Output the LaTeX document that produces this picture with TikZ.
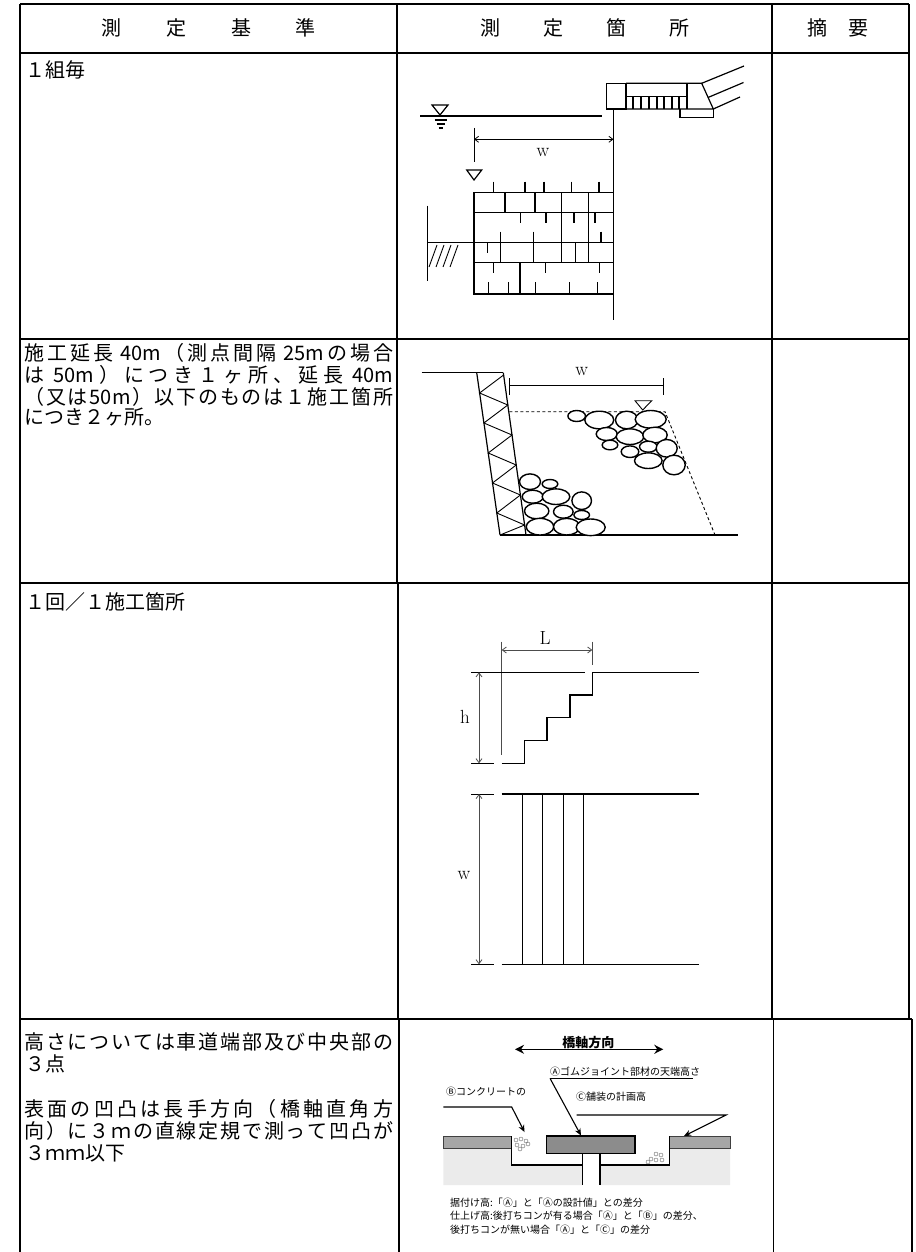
\documentclass[tikz,border=0pt]{standalone}
\usepackage{fontspec}
\newfontfamily\jp{Noto Sans CJK JP}
\usetikzlibrary{arrows.meta,calc}
\def\spreadfirst#1{#1\spreadtok}
\def\spreadtok#1{\ifx\relax#1\else\hfil#1\expandafter\spreadtok\fi}
\newcommand\spreadline[2]{\makebox[#1][s]{\spreadfirst#2\relax}}
\tikzset{
  tb/.style={line width=1.1pt},
  tbo/.style={line width=2.4pt},
  dg/.style={line width=1.2pt},
  thinl/.style={line width=0.9pt},
  dimg/.style={line width=0.8pt, black!70},
  dimarrow/.style={dimg, {Straight Barb[length=4pt,width=6pt]}-{Straight Barb[length=4pt,width=6pt]}},
  txt/.style={inner sep=0pt, anchor=west, font=\jp\fontsize{20}{24}\selectfont},
  head/.style={inner sep=0pt, font=\jp\fontsize{20}{24}\selectfont},
  lab/.style={inner sep=0pt, font=\fontsize{19}{21}\selectfont},
  stone/.style={line width=1.4pt, fill=white},
  small/.style={inner sep=0pt, anchor=west, font=\jp\fontsize{10}{12}\selectfont},
  pave/.style={fill=black!35},
  deck/.style={fill=black!8},
}
\begin{document}
\begin{tikzpicture}[x=1pt,y=-1pt]
\useasboundingbox (0,0) rectangle (915,1252);
% ---------------- table ----------------
\draw[tbo] (20,4) -- (909,4);
\draw[tbo] (20,4) -- (20,1252);
\draw[tbo] (909,4) -- (909,1019);
\draw[tbo] (912,1019) -- (912,1252);
\draw[tb] (20,53) -- (909,53);
\draw[tb] (20,339) -- (909,339);
\draw[tb] (398,583) -- (909,583);
\draw[line width=2pt] (20,583) -- (398,583);
\draw[line width=1.5pt] (20,1019) -- (912,1019);
\draw[tb] (397,4) -- (397,583);
\draw[tb] (398,583) -- (398,1019);
\draw[tb] (399,1019) -- (399,1252);
\draw[tb] (772,4) -- (772,1019);
\draw[tb] (773.5,1019) -- (773.5,1252);
% headers
\node[head] (h1) at (111.7,28) {測};
\node[head] (h2) at (176.3,28) {定};
\node[head] (h3) at (241,28) {基};
\node[head] (h4) at (305.7,28) {準};
\node[head] (h5) at (490,28) {測};
\node[head] (h6) at (553,28) {定};
\node[head] (h7) at (616,28) {箇};
\node[head] (h8) at (679,28) {所};
\node[head] (h9) at (817.5,28) {摘};
\node[head] (h10) at (858,28) {要};
% column 1 texts
\node[txt] (r1) at (25,70) {１組毎};
\node[txt] (r2a) at (24,353) {\spreadline{369pt}{施工延長{ 40m}（測点間隔{ 25m}の場合}};
\node[txt] (r2b) at (24,375) {\spreadline{369pt}{は{ 50m}）につき１ヶ所、延長{ 40m}}};
\node[txt] (r2c) at (24,396.5) {\spreadline{369pt}{（又は{50m}）以下のものは１施工箇所}};
\node[txt] (r2d) at (24,417) {につき２ヶ所。};
\node[txt] (r3) at (25,602) {１回／１施工箇所};
\node[txt] (r4a) at (24,1041.5) {\spreadline{369pt}{高さについては車道端部及び中央部の}};
\node[txt] (r4b) at (25,1063.5) {３点};
\node[txt] (r4c) at (24,1108.5) {\spreadline{369pt}{表面の凹凸は長手方向（橋軸直角方}};
\node[txt] (r4d) at (24,1131) {\spreadline{369pt}{向）に３ｍの直線定規で測って凹凸が}};
\node[txt] (r4e) at (25,1153.5) {３ｍｍ以下};
% ---------------- diagram 1 ----------------
\draw[dg] (420,116) -- (602,116);
\draw[line width=2pt] (420,116) -- (467,116);
\draw[dg] (432,105) -- (448,105) -- (440,115) -- cycle;
\draw[dg] (434.5,120) -- (446.5,120) (436.5,124) -- (444.5,124) (438.5,128) -- (442.5,128);
\draw[dg] (613.5,110) -- (613.5,320);
\draw[dg] (606.7,83.3) rectangle (626,109);
\draw[dg] (626,83.3) -- (701.7,83.3) -- (713.3,109) -- (626,109);
\draw[dg] (626,96.7) -- (687,96.7) (687,83.3) -- (687,109);
\foreach \tx in {633,641,649,657,664,672,679}
  \draw[dg] (\tx,96.7) -- (\tx,109);
\draw[dg] (680,109) -- (680,117.3) -- (713.3,117.3) -- (713.3,109);
\draw[dg] (701.7,83.3) -- (744,66) (708,97.5) -- (743.5,82.5) (713.3,109) -- (740,97);
% dimension w
\draw[thinl] (474,128) -- (474,162);
\draw[dimarrow, black] (474,139.3) -- (613.5,139.3);
\node[lab] (w1) at (543,152) {w};
\draw[dg] (466.7,170) -- (481.7,170) -- (474,180) -- cycle;
% block wall
\draw[dg] (474,192.3) rectangle (613.5,294);
\draw[dg] (474,212.3) -- (613.5,212.3) (474,242.7) -- (613.5,242.7) (474,262.3) -- (613.5,262.3);
\foreach \tx in {493.3,525,544,571.7,599} \draw[dg] (\tx,181.7) -- (\tx,192.3);
\foreach \tx in {505,535,561.7,588.3} \draw[dg] (\tx,192.3) -- (\tx,212.3);
\foreach \tx in {561.7,588.3} \draw[dg] (\tx,212.3) -- (\tx,242.7);
\foreach \tx in {520.7,546,574,595} \draw[dg] (\tx,212.3) -- (\tx,223.3);
\foreach \tx in {500.7,533.3,601} \draw[dg] (\tx,231.7) -- (\tx,242.7);
\foreach \tx in {500.7,533.3,561.7,575.7,588.3} \draw[dg] (\tx,242.7) -- (\tx,262.3);
\draw[dg] (487.3,242.7) -- (487.3,253.3);
\draw[dg] (520,262.3) -- (520,294);
\foreach \tx in {493.3,545.7,599.3} \draw[dg] (\tx,262.3) -- (\tx,273.3);
\foreach \tx in {488.3,508.3,535.7,569.3,597.3} \draw[dg] (\tx,282.3) -- (\tx,294);
% ground left
\draw[dg] (427.3,205.7) -- (427.3,280.7);
\draw[dg] (427.3,242.7) -- (474,242.7);
\foreach \tx in {0,7,14,21} \draw[thinl] (437+\tx,245) -- (429+\tx,267);
% ---------------- diagram 2 ----------------
\draw[dg] (421.7,372.7) -- (503.3,372.7);
\draw[dg] (476.7,372.7) -- (500,535);
\draw[dg] (503.3,372.7) -- (526,535);
\draw[thinl] (503.6,375) -- (479.6,393) -- (507.8,405) -- (483.9,423) -- (512,435) -- (488.2,453) -- (516.2,465) -- (492.5,483) -- (520.4,495) -- (496.8,513) -- (524.6,525) -- (500,535);
\draw[thinl] (509.3,378) -- (509.3,395) (663.3,378) -- (663.3,395);
\draw[thinl] (509.3,385) -- (663.3,385);
\node[lab] (w2) at (581.7,371) {w};
\draw[thinl, dash pattern=on 3pt off 2.5pt] (509.3,411.7) -- (665,411.7) -- (715,535);
\draw[dg] (500,535) -- (738.3,535);
% stones
\foreach \sx/\sy/\rx/\ry in {
  576.7/416/8.8/5.5, 599.3/420/14.5/8.8, 626.7/420/11.2/8.8, 650.7/419.3/15.5/8.8,
  606.7/434/10.5/6.5, 630/436.7/13.8/7.8, 655/435/12.2/7.8, 610/445/7.8/4.8,
  630/451.7/8.8/5.8, 648.3/446.7/8.8/5.5, 666.7/448.3/10.5/8.8, 648.3/460.7/13.8/7.8,
  674/465/11.2/9.8,
  530/481.7/10.5/7.8, 550/484/7.8/4.5, 532.7/496.7/10.5/6.5, 556/496.7/13.8/7.8,
  581.7/500.7/9.8/8.8, 536.7/511/12.2/7.8, 563.3/511.7/9.8/6.5, 581.7/515/7.8/4.5,
  540/526.7/13.8/8.3, 566.7/526.7/13.2/8.3, 590.7/527.3/14.5/8.3}
  \draw[stone] (\sx,\sy) ellipse [x radius=\rx, y radius=\ry];
\draw[thinl, fill=white] (635,400.7) -- (651.7,400.7) -- (642.7,410) -- cycle;
% ---------------- diagram 3 ----------------
\draw[dimg] (501.7,641.7) -- (501.7,755);
\draw[dimg] (592.3,641.7) -- (592.3,665);
\draw[dimarrow] (501.7,650) -- (592.3,650);
\node[lab] (lL) at (545,638) {L};
\draw[thinl] (471,672.3) -- (585,672.3);
\draw[dg] (501.7,763.3) -- (524.3,763.3) -- (524.3,740.7) -- (547,740.7) -- (547,717.7) -- (570,717.7) -- (570,695) -- (592.3,695) -- (592.3,672.3) -- (699,672.3);
\draw[thinl] (471,763.3) -- (494.3,763.3);
\draw[dimarrow] (479,672.3) -- (479,763.3);
\node[lab] (lh) at (465,716.7) {h};
\draw[thinl] (471,794) -- (494.3,794) (471,964.3) -- (494.3,964.3);
\draw[dg] (501.7,794) -- (699,794) (501.7,964.3) -- (699,964.3);
\foreach \tx in {522.3,542.7,563.3,583.7} \draw[dg] (\tx,794) -- (\tx,964.3);
\draw[dimarrow] (479,794) -- (479,964.3);
\node[lab] (lw) at (464,875) {w};
% ---------------- diagram 4 ----------------
\node[inner sep=0pt, font=\jp\bfseries\fontsize{13}{15}\selectfont] (d4t) at (588.3,1043) {橋軸方向};
\draw[line width=1.6pt, {Stealth[length=9pt,width=9pt]}-{Stealth[length=9pt,width=9pt]}] (515,1049.3) -- (663.3,1049.3);
\node[small] (ta) at (550,1072) {Ⓐゴムジョイント部材の天端高さ};
\draw[thinl] (550,1078.3) -- (693.3,1078.3);
\node[small] (tb) at (446,1091.5) {Ⓑコンクリートの};
\node[small] (tc) at (576,1097) {Ⓒ舗装の計画高};
% deck
\fill[deck] (443.3,1148.3) -- (511.7,1148.3) -- (511.7,1165) -- (582.7,1165) -- (582.7,1185) -- (443.3,1185) -- cycle;
\fill[deck] (600,1165) -- (669.3,1165) -- (669.3,1148.3) -- (730,1148.3) -- (730,1185) -- (600,1185) -- cycle;
\filldraw[pave, draw=black!75, line width=1pt] (443.3,1136) rectangle (511.7,1148.3);
\filldraw[pave, draw=black!75, line width=1pt] (669.3,1136) rectangle (730,1148.3);
\draw[dg] (511.7,1136) -- (511.7,1165) -- (582.7,1165) -- (582.7,1185);
\draw[dg] (582.7,1153.3) -- (582.7,1165);
\draw[dg] (669.3,1136) -- (669.3,1165) -- (600,1165);
\draw[dg] (600,1153.3) -- (600,1185);
\filldraw[fill=black!45, draw=black, line width=1.4pt] (546.7,1136) rectangle (635,1153.3);
% block-out concrete
\foreach \cx/\cy in {516/1140, 521/1139, 526/1141, 517/1145, 523/1146, 528/1144, 520/1149}
  \draw[line width=0.4pt, black!60] (\cx,\cy) circle [radius=2];
\foreach \cx/\cy in {656/1154, 661/1155, 651/1159, 656/1160, 662/1160, 648/1162}
  \draw[line width=0.4pt, black!60] (\cx,\cy) circle [radius=2];
% callouts
\draw[line width=1.1pt, -{Stealth[length=7pt,width=6pt]}] (443.3,1107) -- (511.7,1107) -- (524.5,1132);
\draw[line width=1.1pt, -{Stealth[length=7pt,width=6pt]}] (550,1078.3) -- (581,1135.5);
\draw[line width=1.1pt, -{Stealth[length=7pt,width=6pt]}] (576.7,1115) -- (726,1115) -- (684,1136);
\node[small] (b1) at (450,1202.7) {据付け高:「Ⓐ」と「Ⓐの設計値」との差分};
\node[small] (b2) at (450,1216) {仕上げ高:後打ちコンが有る場合「Ⓐ」と「Ⓑ」の差分、};
\node[small] (b3) at (450,1229.3) {後打ちコンが無い場合「Ⓐ」と「Ⓒ」の差分};
\end{tikzpicture}
\end{document}
